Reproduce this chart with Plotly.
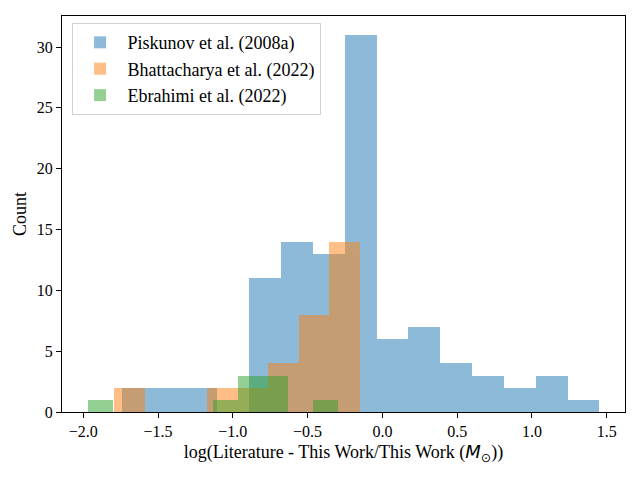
import numpy as np
import plotly.graph_objects as go

# Histogram data (bin range and counts per series)
piskunov_range = (-1.741, 1.451)
piskunov_counts = [2, 2, 2, 0, 11, 14, 13, 31, 6, 7, 4, 3, 2, 3, 1]

bhatt_range = (-1.792, -0.1486)
bhatt_counts = [2, 0, 0, 2, 2, 4, 8, 14]

ebrahimi_range = (-1.971, -0.300)
ebrahimi_counts = [1, 0, 0, 0, 0, 1, 3, 3, 0, 1]

names = ["Piskunov et al. (2008a)", "Bhattacharya et al. (2022)", "Ebrahimi et al. (2022)"]
colors = ["#1f77b4", "#ff7f0e", "#2ca02c"]

x_ticks = [-2.0, -1.5, -1.0, -0.5, 0.0, 0.5, 1.0, 1.5]
y_ticks = [0, 5, 10, 15, 20, 25, 30]

FONT = "Liberation Serif"

fig = go.Figure()
for name, rng, counts, col in zip(names,
                                  [piskunov_range, bhatt_range, ebrahimi_range],
                                  [piskunov_counts, bhatt_counts, ebrahimi_counts],
                                  colors):
    edges = np.linspace(rng[0], rng[1], len(counts) + 1)
    centers = (edges[:-1] + edges[1:]) / 2
    widths = np.diff(edges)
    fig.add_trace(go.Bar(x=centers, y=counts, width=widths, name=name,
                         marker=dict(color=col, line=dict(width=0)),
                         opacity=0.5))

all_min = min(piskunov_range[0], bhatt_range[0], ebrahimi_range[0])
all_max = max(piskunov_range[1], bhatt_range[1], ebrahimi_range[1])
pad = 0.05 * (all_max - all_min)
ymax = max(max(piskunov_counts), max(bhatt_counts), max(ebrahimi_counts)) * 1.05

# The page body adds an 8px offset, so the figure is 632x472 and margins are shifted.
fig.update_layout(
    width=632, height=472,
    barmode="overlay",
    bargap=0,
    plot_bgcolor="white", paper_bgcolor="white",
    margin=dict(l=54, r=15, t=8, b=68, autoexpand=False),
    font=dict(family=FONT, size=16, color="black"),
    showlegend=True,
    legend=dict(x=0.017, y=0.982, xanchor="left", yanchor="top",
                bgcolor="rgba(255,255,255,0.8)", bordercolor="#d0d0d0", borderwidth=1,
                font=dict(family=FONT, size=18, color="black"), tracegroupgap=0,
                itemwidth=45, traceorder="normal"),
    xaxis=dict(range=[all_min - pad, all_max + pad], tickvals=x_ticks,
               tickformat=".1f", showgrid=False, zeroline=False,
               showline=True, linecolor="black", linewidth=1, mirror=True,
               ticks="outside", ticklen=5, tickcolor="black",
               tickfont=dict(family=FONT, size=16, color="black"),
               title=dict(text="log(Literature - This Work/This Work (<span style=\"font-family:DejaVu Sans\"><i>M</i><sub>⊙</sub></span>))",
                          font=dict(family=FONT, size=18, color="black"), standoff=6)),
    yaxis=dict(range=[0, ymax], tickvals=y_ticks, showgrid=False, zeroline=False,
               showline=True, linecolor="black", linewidth=1, mirror=True,
               ticks="outside", ticklen=5, tickcolor="black",
               tickfont=dict(family=FONT, size=16, color="black"),
               title=dict(text="Count", font=dict(family=FONT, size=18, color="black"), standoff=5)),
)

fig.write_html("out.html")
